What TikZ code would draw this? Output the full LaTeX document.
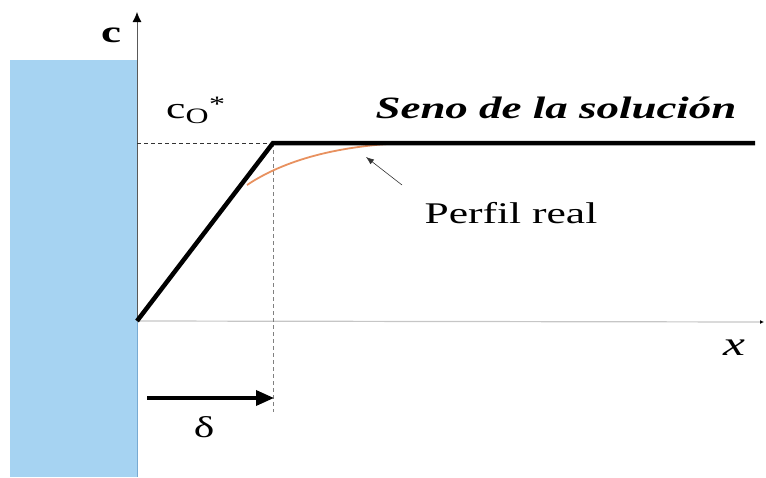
\documentclass[tikz,border=0pt]{standalone}
\usepackage{fontspec}
\setmainfont{Liberation Serif}
\newfontfamily\wserif[FakeStretch=1.45]{Liberation Serif}
\usetikzlibrary{arrows.meta}
\definecolor{wallblue}{RGB}{166,211,242}
\definecolor{walledge}{RGB}{120,170,210}
\definecolor{realorange}{RGB}{232,145,95}
\tikzset{
  lbl/.style={inner sep=0pt, font=\wserif\fontsize{30}{34}\selectfont},
  profile/.style={line width=4.5pt, black, line join=miter},
  guide/.style={dashed, thin, dash pattern=on 4pt off 3pt},
}
\begin{document}
\begin{tikzpicture}[x=1pt,y=-1pt]
\useasboundingbox (0,0) rectangle (766,477);
% wall
\fill[wallblue] (10,60) rectangle (137,477);
\draw[walledge, line width=0.8pt] (137,60) -- (137,477);
% coordinates
\coordinate (o) at (137,321);
\coordinate (ctop) at (137,12);
\coordinate (xend) at (764,322);
\coordinate (k) at (273,143);
\coordinate (ax) at (137,143);
\coordinate (kend) at (755,143);
\coordinate (kdown) at (273,412);
\coordinate (d0) at (147,398);
\coordinate (d1) at (274,398);
\coordinate (r0) at (247,185);
\coordinate (r1) at (405,143);
\coordinate (p0) at (402,185);
\coordinate (p1) at (366,157);
% axes
\draw[gray!70!black, line width=0.8pt, -{Latex[black,length=10pt,width=9pt]}] (o) -- (ctop);
\draw[gray!45, line width=1.2pt, -{Latex[black,length=4pt,width=4pt]}] (o) -- (xend);
% guides
\draw[guide, black!80] (ax) -- (k);
\draw[guide, gray] (k) -- (kdown);
% real profile
\draw[realorange, line width=1.8pt] (r0) .. controls (280,163) and (330,146) .. (r1);
% linear profile
\draw[profile] (o) -- (k) -- (kend);
% pointer arrow
\draw[black!80, line width=0.6pt, -{Latex[length=8pt,width=6pt]}] (p0) -- (p1);
% delta arrow
\draw[line width=3.5pt, -{Triangle[length=18pt,width=15pt]}] (d0) -- (d1);
% labels
\node[lbl, font=\wserif\bfseries\fontsize{31}{34}\selectfont, anchor=base] (c) at (111,42) {c};
\node[lbl, anchor=base west] (co) at (166,118) {c\textsubscript{\fontsize{22}{24}\selectfont O}\raisebox{7pt}{\fontsize{22}{24}\selectfont *}};
\node[lbl, font=\wserif\bfseries\itshape\fontsize{31}{34}\selectfont, anchor=base] (seno) at (556,118) {Seno de la solución};
\node[lbl, anchor=base] (perfil) at (511,223) {Perfil real};
\node[lbl, font=\wserif\itshape\fontsize{34}{38}\selectfont, anchor=base] (xl) at (734,355) {x};
\node[lbl, anchor=base] (delta) at (204,437) {δ};
\end{tikzpicture}
\end{document}
